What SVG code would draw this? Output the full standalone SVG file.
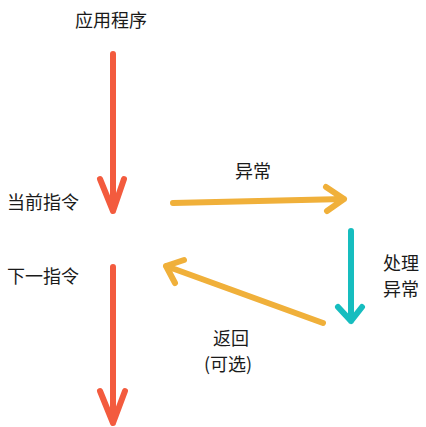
<svg xmlns="http://www.w3.org/2000/svg" width="426" height="427" viewBox="0 0 426 427">
<style>
text{font-family:"Noto Sans CJK SC","Noto Sans",sans-serif;font-size:18px;fill:#1a1a1a;dominant-baseline:central}
.a{fill:none;stroke-width:6;stroke-linecap:round;stroke-linejoin:round}
.r{stroke:#F35B3E}
.o{stroke:#F0B03A}
.t{stroke:#16BDBF}
</style>
<rect width="426" height="427" fill="#fff"/>
<g id="app"><text x="75" y="19">应用程序</text></g>
<g id="current"><text x="7" y="201">当前指令</text></g>
<g id="next"><text x="7" y="275">下一指令</text></g>
<g id="exc-label"><text x="235" y="170">异常</text></g>
<g id="handle"><text x="383" y="262">处理</text><text x="383" y="288">异常</text></g>
<g id="ret"><text x="213" y="337">返回</text><text x="204" y="363">(可选)</text></g>
<g id="connectors">
<path class="a r" d="M113 54 L113 211 M100 179 L113 211 L124 179"/>
<path class="a r" d="M113 267 L113 423 M100 391 L113 423 L125 391"/>
<path class="a o" d="M173 203 L344 199 M326 187 L344 199 L327 211"/>
<path class="a t" d="M351 231 L351 321 M338 307 L351 321 L362 307"/>
<path class="a o" d="M323 323 L166 266 M184 260 L166 266 L175 283"/>
</g>
</svg>
